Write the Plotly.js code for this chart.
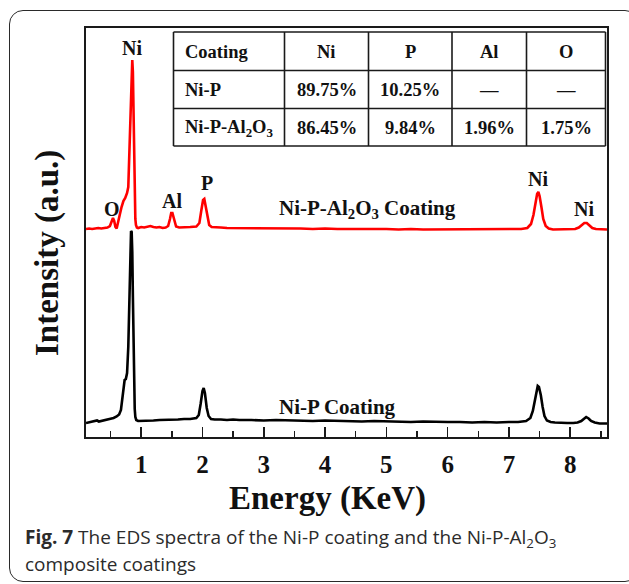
<!DOCTYPE html>
<html>
<head>
<meta charset="utf-8">
<script src="https://cdn.plot.ly/plotly-3.0.1.min.js"></script>
<style>
  html, body { margin: 0; padding: 0; background: #fff; width: 629px; height: 584px; overflow: hidden; }
  #card { position: absolute; left: 9px; top: 10px; width: 630px; height: 572px; box-sizing: border-box;
          border: 1.6px solid #2a2a2a; border-radius: 14px; z-index: 0; }
  #chart { position: absolute; left: 0; top: 0; width: 629px; height: 584px; z-index: 1; }
</style>
</head>
<body>
<div id="card"></div>
<div id="chart"></div>
<script>
// ---------- data ----------
// Ni-P coating spectrum (energy in keV, intensity in arbitrary units, stacked bottom)
const niP_energy = [0.10,0.15,0.20,0.25,0.28,0.31,0.35,0.40,0.45,0.50,0.55,0.60,0.64,0.67,0.69,0.71,0.73,0.75,0.77,0.79,0.81,0.825,0.835,0.845,0.855,0.865,0.875,0.885,0.895,0.905,0.92,0.95,1.00,1.05,1.10,1.20,1.30,1.40,1.50,1.60,1.70,1.80,1.90,1.94,1.97,2.00,2.02,2.04,2.07,2.10,2.14,2.20,2.30,2.40,2.50,2.60,2.80,3.00,3.20,3.40,3.60,3.80,4.00,4.20,4.40,4.60,4.80,5.00,5.20,5.40,5.60,5.80,6.00,6.20,6.40,6.60,6.80,7.00,7.15,7.28,7.35,7.39,7.42,7.45,7.47,7.49,7.52,7.55,7.58,7.62,7.68,7.75,7.85,7.95,8.05,8.12,8.18,8.22,8.26,8.30,8.34,8.40,8.48,8.55,8.60];
const niP_intensity = [14,14.5,15,16,16.5,15.5,16,16.5,17.5,18,19,20.5,22.5,27,38,52,57,58,64,90,145,190,206,205,185,140,90,50,28,20,17,16,16,16.5,16,16.5,17,17,17.5,17.5,18,18,19,22,33,46,49,44,29,21,18,17.5,17.5,17,17.5,17,17,16.5,17,16.5,16.5,16,16.5,16,16,15.5,16,15.5,15.5,15,15.5,15,15,15,14.5,15,14.5,15,15,16,19,26,37,48,51,50,42,30,21,16.5,15,14.5,14,14,14,14.5,16,18.5,20,18.5,16,14.5,13.5,13.5,13.5];

// Ni-P-Al2O3 coating spectrum (offset upward in the figure)
const niPAl_energy = [0.10,0.15,0.20,0.25,0.30,0.35,0.40,0.45,0.49,0.52,0.54,0.56,0.58,0.60,0.62,0.65,0.68,0.71,0.74,0.77,0.79,0.81,0.83,0.845,0.855,0.865,0.875,0.885,0.895,0.905,0.915,0.93,0.95,1.00,1.05,1.10,1.15,1.20,1.25,1.30,1.35,1.40,1.44,1.47,1.49,1.51,1.54,1.57,1.62,1.70,1.80,1.90,1.95,1.98,2.01,2.03,2.05,2.08,2.11,2.15,2.22,2.30,2.40,2.60,2.80,3.00,3.20,3.40,3.60,3.80,4.00,4.20,4.40,4.60,4.80,5.00,5.20,5.40,5.60,5.80,6.00,6.20,6.40,6.60,6.80,7.00,7.20,7.30,7.36,7.40,7.43,7.46,7.48,7.50,7.53,7.56,7.60,7.65,7.72,7.80,7.90,8.00,8.08,8.14,8.19,8.23,8.27,8.31,8.36,8.42,8.50,8.60];
const niPAl_intensity = [208,208.5,208,208.5,209,208.5,209,209.5,211,216,219,216,210,208.5,213,222,230,236,239,244,250,290,350,375,377,365,320,270,235,218,212,209.5,209,210,209.5,210.5,211,210,209.5,210,209,209.5,211,218,224,224,216,210.5,209.5,209.5,210,210.5,214,226,237,238,231,219,212,210,209.5,209.5,209,209,209,208.5,209,208.5,208.5,208,208.5,208,208,208.5,208,208,207.5,208,207.5,207.5,207.5,207.5,207.5,207.5,207.5,207.5,208,209,213,222,233,243,245,241,230,218,211,208.5,207.5,207.5,207.5,207.5,208,209.5,212,214,214,212,209,208,207.5,207.5];

// peak labels
const peakLabels = ['Ni','O','Al','P','Ni','Ni'];
const peakLabelEnergy = [0.856,0.53,1.51,2.08,7.47,8.22];
const peakLabelHeight = [389,228,236,254,258,228];

// series labels
const seriesNames = ['Ni-P Coating','Ni-P-Al<sub>2</sub>O<sub>3</sub> Coating'];
const seriesLabelEnergy = [4.21,4.70];
const seriesLabelHeight = [30,228];

// inset composition table
const tableHeader = ['Coating','Ni','P','Al','O'];
const tableRowNiP = ['Ni-P','89.75%','10.25%','—','—'];
const tableRowNiPAl = ['Ni-P-Al<sub>2</sub>O<sub>3</sub>','86.45%','9.84%','1.96%','1.75%'];

// x-axis ticks
const tickValues = [1,2,3,4,5,6,7,8];
const tickLabels = ['1','2','3','4','5','6','7','8'];

// ---------- layout helpers ----------
const W = 629, H = 584;
const M = {l: 86, r: 22, t: 28, b: 147};
const PW = W - M.l - M.r, PH = H - M.t - M.b;
const px2x = p => (p - M.l) / PW;   // pixel -> paper x
const py2y = p => (H - M.b - p) / PH; // pixel -> paper y

const serif = 'Liberation Serif, Times New Roman, serif';
const ink = '#111';

const traces = [
  {x: niP_energy, y: niP_intensity, type: 'scatter', mode: 'lines', name: 'Ni-P',
   line: {color: '#000000', width: 2.6}, hoverinfo: 'skip'},
  {x: niPAl_energy, y: niPAl_intensity, type: 'scatter', mode: 'lines', name: 'Ni-P-Al2O3',
   line: {color: '#ff0000', width: 2.6}, hoverinfo: 'skip'}
];

const annotations = [];
peakLabels.forEach((t, i) => annotations.push({
  x: peakLabelEnergy[i], y: peakLabelHeight[i], xref: 'x', yref: 'y', text: t, showarrow: false,
  xanchor: 'center', yanchor: 'middle', font: {family: serif, size: 20, color: ink, weight: 'bold'}
}));
seriesNames.forEach((t, i) => annotations.push({
  x: seriesLabelEnergy[i], y: seriesLabelHeight[i], xref: 'x', yref: 'y', text: t, showarrow: false,
  xanchor: 'center', yanchor: 'middle', font: {family: serif, size: 21, color: ink, weight: 'bold'}
}));

// table geometry (pixels)
const colEdges = [173.5, 284.5, 368.5, 452, 526.5, 605.5];
const rowEdges = [32, 70.5, 108.5, 146];
const shapes = [];
colEdges.forEach(c => shapes.push({type: 'line', xref: 'paper', yref: 'paper',
  x0: px2x(c), x1: px2x(c), y0: py2y(rowEdges[0]), y1: py2y(rowEdges[rowEdges.length-1]),
  line: {color: '#1a1a1a', width: 1.6}}));
rowEdges.forEach(r => shapes.push({type: 'line', xref: 'paper', yref: 'paper',
  x0: px2x(colEdges[0]), x1: px2x(colEdges[colEdges.length-1]), y0: py2y(r), y1: py2y(r),
  line: {color: '#1a1a1a', width: 1.6}}));

[tableHeader, tableRowNiP, tableRowNiPAl].forEach((row, ri) => {
  const yc = (rowEdges[ri] + rowEdges[ri+1]) / 2 + 1;
  row.forEach((txt, ci) => {
    const first = ci === 0;
    const xc = first ? colEdges[0] + 9 : (colEdges[ci] + colEdges[ci+1]) / 2;
    annotations.push({x: px2x(xc), y: py2y(yc), xref: 'paper', yref: 'paper', text: txt,
      showarrow: false, xanchor: first ? 'left' : 'center', yanchor: 'middle',
      font: {family: serif, size: 18.5, color: ink, weight: 'bold'}});
  });
});

// axis titles
annotations.push({x: px2x(327), y: py2y(498), xref: 'paper', yref: 'paper', text: 'Energy (KeV)',
  showarrow: false, xanchor: 'center', yanchor: 'middle',
  font: {family: serif, size: 33, color: ink, weight: 'bold'}});
annotations.push({x: px2x(48), y: py2y(253), xref: 'paper', yref: 'paper', text: 'Intensity (a.u.)',
  showarrow: false, xanchor: 'center', yanchor: 'middle', textangle: -90,
  font: {family: serif, size: 33, color: ink, weight: 'bold'}});

// caption
const capFont = {family: 'Open Sans, Noto Sans, sans-serif', size: 19, color: '#2b2b2b'};
annotations.push({x: px2x(23), y: py2y(538), xref: 'paper', yref: 'paper',
  text: '<b>Fig. 7</b> The EDS spectra of the Ni-P coating and the Ni-P-Al<sub>2</sub>O<sub>3</sub>',
  showarrow: false, xanchor: 'left', yanchor: 'middle', font: capFont});
annotations.push({x: px2x(23), y: py2y(564), xref: 'paper', yref: 'paper',
  text: 'composite coatings', showarrow: false, xanchor: 'left', yanchor: 'middle', font: capFont});

const layout = {
  width: W, height: H,
  margin: M,
  paper_bgcolor: 'rgba(0,0,0,0)', plot_bgcolor: 'rgba(0,0,0,0)',
  showlegend: false, hovermode: false,
  xaxis: {
    range: [0.1, 8.6], tickmode: 'array', tickvals: tickValues, ticktext: tickLabels,
    ticks: 'inside', ticklen: 10, tickwidth: 1.5, tickcolor: '#1a1a1a',
    showline: true, mirror: true, linecolor: '#1a1a1a', linewidth: 1.6,
    showgrid: false, zeroline: false, ticklabelstandoff: 4,
    tickfont: {family: serif, size: 25, color: ink, weight: 'bold'},
    minor: {tickmode: 'linear', tick0: 0, dtick: 0.5, ticks: 'inside', ticklen: 6, tickwidth: 1.5, tickcolor: '#1a1a1a', showgrid: false}
  },
  yaxis: {
    range: [0, 409], showticklabels: false, ticks: '', showline: true, mirror: true,
    linecolor: '#1a1a1a', linewidth: 1.6, showgrid: false, zeroline: false
  },
  shapes: shapes,
  annotations: annotations
};

Plotly.newPlot('chart', traces, layout, {displayModeBar: false, staticPlot: true});
</script>
</body>
</html>
